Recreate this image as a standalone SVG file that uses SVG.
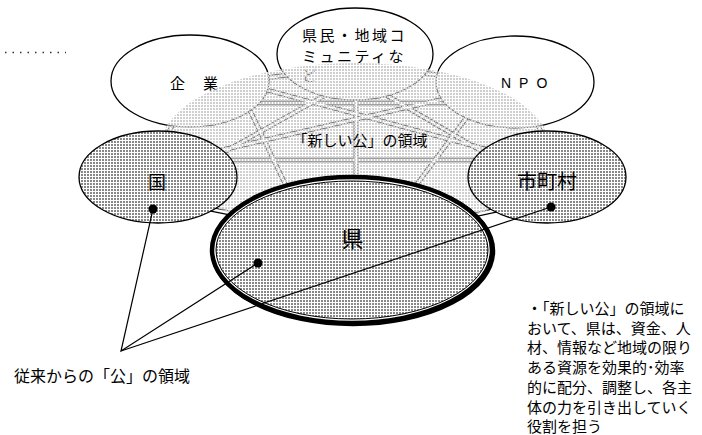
<svg xmlns="http://www.w3.org/2000/svg" width="702" height="435" viewBox="0 0 702 435">
<style>
.jp{font-family:"Noto Sans CJK JP","Noto Sans CJK SC",sans-serif;fill:#000}
.en{font-family:"Liberation Sans",Arial,sans-serif;fill:#000}
.wo{stroke:#000;stroke-width:5;fill:none}
.wi{stroke:#fff;stroke-width:2.6;fill:none}
.wn{fill:#fff;stroke:#000;stroke-width:1.3}
.dn{fill:url(#dk);stroke:#000;stroke-width:1.3}
.ld{stroke:#000;stroke-width:1.2;fill:none}
</style>
<defs>
<pattern id="dk" width="3" height="3" patternUnits="userSpaceOnUse"><rect width="3" height="3" fill="#fff"/><rect width="2" height="2" fill="#888"/></pattern>
<pattern id="lt" width="3" height="3" patternUnits="userSpaceOnUse"><rect width="2" height="2" fill="#cfcfcf"/></pattern>
<g id="web">
<line x1="240" y1="82" x2="320" y2="70"/>
<line x1="230" y1="103" x2="480" y2="103"/>
<line x1="185" y1="100" x2="155" y2="160"/>
<line x1="230" y1="80" x2="500" y2="153"/>
<line x1="236" y1="81" x2="300" y2="215"/>
<line x1="390" y1="70" x2="470" y2="78"/>
<line x1="370" y1="70" x2="210" y2="160"/>
<line x1="340" y1="68" x2="500" y2="162"/>
<line x1="356" y1="80" x2="356" y2="200"/>
<line x1="200" y1="155" x2="470" y2="93"/>
<line x1="530" y1="100" x2="550" y2="160"/>
<line x1="490" y1="86" x2="400" y2="207"/>
<line x1="180" y1="160" x2="520" y2="160"/>
<line x1="190" y1="205" x2="250" y2="217"/>
<line x1="460" y1="218" x2="520" y2="205"/>
</g>
</defs>
<rect width="702" height="435" fill="#fff"/>
<line x1="5" y1="52.5" x2="66" y2="52.5" stroke="#333" stroke-width="1.5" stroke-dasharray="1.5 6"/>
<g id="connectors">
<use href="#web" class="wo"/>
<use href="#web" class="wi"/>
</g>
<g id="kigyo">
<ellipse class="wn" cx="190" cy="81" rx="79" ry="46"/>
<text class="jp" x="170" y="89" font-size="15" letter-spacing="1.5">企　業</text>
</g>
<g id="kenmin">
<ellipse class="wn" cx="355" cy="54" rx="78" ry="46"/>
<text class="jp" x="302" y="41" font-size="15" letter-spacing="2.5">県民・地域コ</text>
<text class="jp" x="302" y="61.5" font-size="15" letter-spacing="2.5">ミュニティな</text>
<text class="jp" x="302" y="81" font-size="15">ど</text>
</g>
<g id="npo">
<ellipse class="wn" cx="515" cy="82" rx="79" ry="46"/>
<text class="en" x="501" y="88" font-size="14" letter-spacing="8">NPO</text>
</g>
<g id="new-public-area">
<ellipse cx="355" cy="148" rx="195" ry="85" fill="#fff" fill-opacity="0.5"/>
<ellipse cx="355" cy="148" rx="195" ry="85" fill="url(#lt)"/>
<text class="jp" x="360" y="146" font-size="15" text-anchor="middle">「新しい公」の領域</text>
</g>
<g id="kuni">
<ellipse class="dn" cx="158" cy="177" rx="79" ry="46"/>
<text class="jp" x="157" y="188.5" font-size="18" text-anchor="middle">国</text>
</g>
<g id="shichoson">
<ellipse class="dn" cx="547" cy="177" rx="79" ry="46"/>
<text class="jp" x="547" y="189" font-size="20" text-anchor="middle">市町村</text>
</g>
<g id="ken">
<ellipse cx="353" cy="251" rx="140" ry="73" fill="none" stroke="#000" stroke-width="4.5"/>
<ellipse cx="352" cy="250" rx="140" ry="73" fill="#fff" stroke="#000" stroke-width="4.5"/>
<ellipse cx="352" cy="250" rx="136" ry="69" fill="url(#dk)" stroke="#000" stroke-width="1"/>
<text class="jp" x="352.5" y="247" font-size="22" text-anchor="middle">県</text>
</g>
<g id="leaders">
<polyline class="ld" points="153,209 121,351 258,263"/>
<line class="ld" x1="121" y1="351" x2="551" y2="207"/>
<circle cx="153" cy="209" r="4.5"/>
<circle cx="258" cy="263" r="4.5"/>
<circle cx="551" cy="207" r="4.5"/>
</g>
<g id="label-old">
<text class="jp" x="14" y="382" font-size="16">従来からの「公」の領域</text>
</g>
<g id="note">
<text class="jp" x="527" y="314" font-size="15">・「新しい公」の領域に</text>
<text class="jp" x="527" y="333.7" font-size="15">おいて、県は、資金、人</text>
<text class="jp" x="527" y="353.4" font-size="15">材、情報など地域の限り</text>
<text class="jp" x="527" y="373.1" font-size="15">ある資源を効果的･効率</text>
<text class="jp" x="527" y="392.8" font-size="15">的に配分、調整し、各主</text>
<text class="jp" x="527" y="412.5" font-size="15">体の力を引き出していく</text>
<text class="jp" x="527" y="432.2" font-size="15">役割を担う</text>
</g>
</svg>
